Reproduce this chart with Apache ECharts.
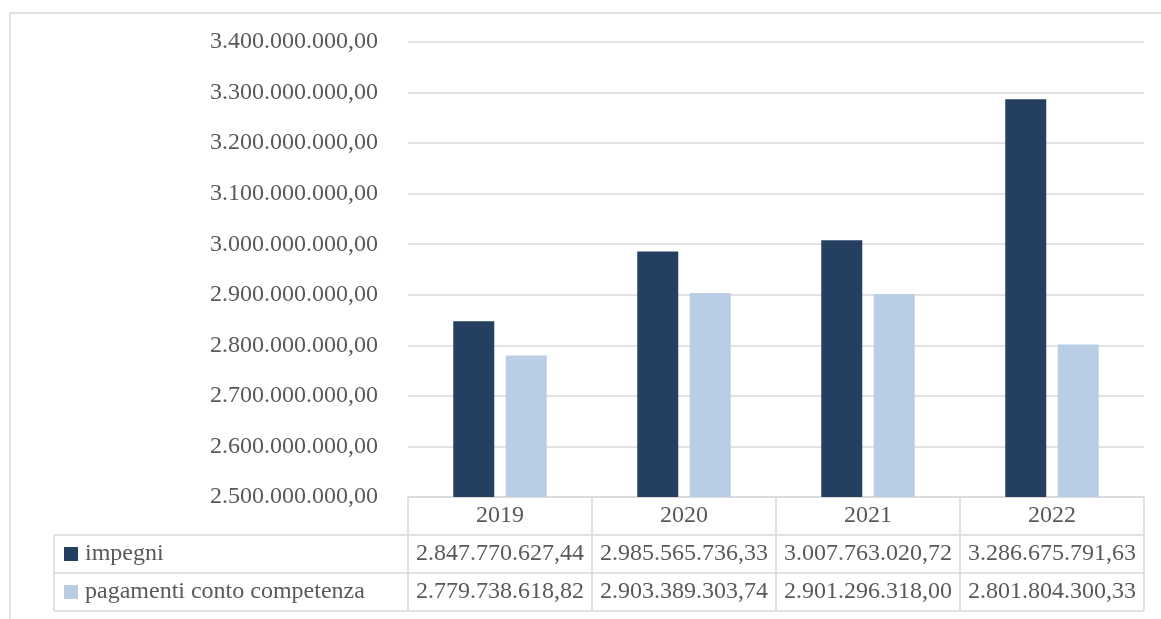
<!DOCTYPE html>
<html>
<head>
<meta charset="utf-8">
<script src="https://cdn.jsdelivr.net/npm/echarts@6/dist/echarts.min.js"></script>
<style>
  html, body { margin: 0; padding: 0; background: #ffffff; }
  #chart { width: 1161px; height: 619px; }
</style>
</head>
<body>
<div id="chart"></div>
<script>
// Impegni e pagamenti in conto competenza, 2019-2022
const years = ['2019', '2020', '2021', '2022'];
const impegni = [2847770627.44, 2985565736.33, 3007763020.72, 3286675791.63];
const pagamenti = [2779738618.82, 2903389303.74, 2901296318.00, 2801804300.33];
const seriesNames = ['impegni', 'pagamenti conto competenza'];
const yMin = 2500000000;
const yMax = 3400000000;
const yStep = 100000000;

const FONT = "'Liberation Serif', 'Times New Roman', serif";
const TEXT = '#595959';
const LINE = '#d9d9d9';
const DARK = '#243f60';
const LIGHT = '#b9cde5';

// plot area and table geometry
const W = 1161, H = 619;
const gL = 408, gR = 1144, gT = 42, gB = 497;
const rowH = [38, 38, 38];
const legendColX = 54;

const fmt = v => v.toLocaleString('it-IT', { minimumFractionDigits: 2, maximumFractionDigits: 2 });

const chart = echarts.init(document.getElementById('chart'), null, { renderer: 'canvas' });

const labelBase = { fontFamily: FONT, fontSize: 24, color: TEXT, verticalAlign: 'middle' };
const row1 = gB + rowH[0];
const row2 = row1 + rowH[1];
const row3 = row2 + rowH[2];

function tableAxis(offset, len, formatter) {
  return {
    type: 'category',
    data: years,
    position: 'bottom',
    offset: offset,
    axisLine: { show: true, lineStyle: { color: LINE, width: 1.5 } },
    axisTick: { show: true, interval: 0, length: len, lineStyle: { color: LINE, width: 1.5 } },
    axisLabel: Object.assign({}, labelBase, {
      interval: 0,
      hideOverlap: false,
      margin: Math.round(len / 2),
      formatter: formatter
    }),
    splitLine: { show: false }
  };
}

const hline = (x1, x2, y) => ({ type: 'line', silent: true, shape: { x1, y1: y, x2, y2: y }, style: { stroke: LINE, lineWidth: 1.5 } });
const vline = (x, y1, y2) => ({ type: 'line', silent: true, shape: { x1: x, y1, x2: x, y2 }, style: { stroke: LINE, lineWidth: 1.5 } });

chart.setOption({
  animation: false,
  backgroundColor: '#ffffff',
  grid: { left: gL, right: W - gR, top: gT, bottom: H - gB, containLabel: false },
  legend: {
    orient: 'vertical',
    left: 64,
    top: row1 + 7,
    padding: 0,
    icon: 'rect',
    itemWidth: 14,
    itemHeight: 14,
    itemGap: 14,
    data: seriesNames,
    textStyle: { fontFamily: FONT, fontSize: 24, color: TEXT, lineHeight: 24, padding: [0, 0, 0, 2] }
  },
  xAxis: [
    tableAxis(0, rowH[0], v => v),
    tableAxis(rowH[0], rowH[1], (v, i) => fmt(impegni[i])),
    tableAxis(rowH[0] + rowH[1], rowH[2], (v, i) => fmt(pagamenti[i]))
  ],
  yAxis: {
    type: 'value',
    min: yMin,
    max: yMax,
    interval: yStep,
    axisLine: { show: false },
    axisTick: { show: false },
    axisLabel: Object.assign({}, labelBase, { margin: 30, formatter: v => fmt(v) }),
    splitLine: { lineStyle: { color: LINE, width: 1.5 } }
  },
  series: [
    {
      name: seriesNames[0],
      type: 'bar',
      xAxisIndex: 0,
      data: impegni,
      barWidth: 41,
      barGap: '28%',
      itemStyle: { color: DARK }
    },
    {
      name: seriesNames[1],
      type: 'bar',
      xAxisIndex: 0,
      data: pagamenti,
      barWidth: 41,
      barGap: '28%',
      itemStyle: { color: LIGHT }
    }
  ],
  graphic: [
    // outer chart frame
    { type: 'rect', silent: true, shape: { x: 10, y: 13, width: W + 20, height: H + 20 }, style: { fill: null, stroke: LINE, lineWidth: 1.5 } },
    // legend column of the data table
    hline(legendColX, gL, row1),
    hline(legendColX, gL, row2),
    hline(legendColX, gR, row3),
    vline(legendColX, row1, row3)
  ]
});
</script>
</body>
</html>
